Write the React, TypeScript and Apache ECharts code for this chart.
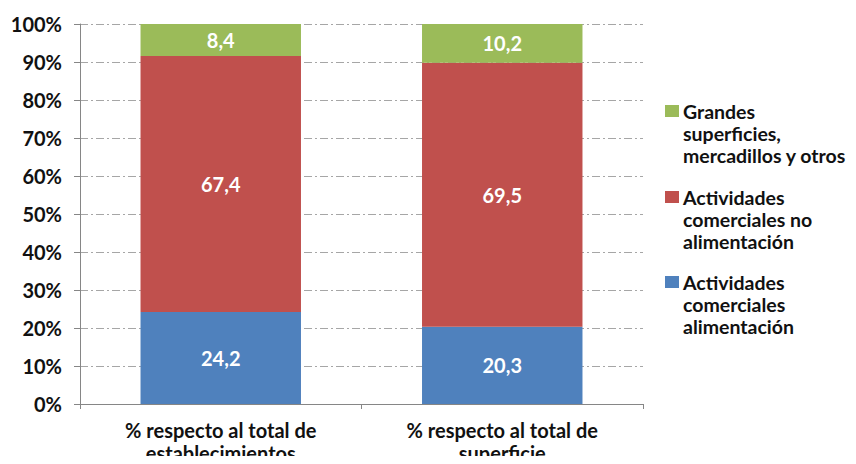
import React, { useEffect, useRef } from "react";
import * as echarts from "echarts";

const categories = ["% respecto al total de\nestablecimientos", "% respecto al total de\nsuperficie"];
const alimentacion = [24.2, 20.3];
const noAlimentacion = [67.4, 69.5];
const grandes = [8.4, 10.2];
const yTicks = [0, 10, 20, 30, 40, 50, 60, 70, 80, 90, 100];

const seriesNames = [
  "Actividades\ncomerciales\nalimentación",
  "Actividades\ncomerciales no\nalimentación",
  "Grandes\nsuperficies,\nmercadillos y otros",
];
const colors = ["#4F81BD", "#C0504D", "#9BBB59"];

const FONT = "Lato";
const FS = 20;

export default function App() {
  const ref = useRef<HTMLDivElement>(null);
  useEffect(() => {
    if (!ref.current) return;
    const chart = echarts.init(ref.current, undefined, { renderer: "svg" });
    const labelCfg = {
      show: true,
      position: "inside",
      color: "#fff",
      fontFamily: FONT,
      fontWeight: "bold",
      fontSize: FS,
      formatter: (p: any) => String(p.value).replace(".", ","),
    };
    const LH = 22;
    const legendItem = (name: string, color: string, centerY: number) => ({
      type: "group",
      children: [
        {
          type: "rect",
          shape: { x: 665, y: centerY - 6, width: 14, height: 12 },
          style: { fill: color },
        },
        {
          type: "text",
          x: 683,
          y: centerY - LH / 2,
          style: {
            text: name,
            fill: "#111",
            font: `bold 19.5px ${FONT}`,
            lineHeight: LH,
            verticalAlign: "top",
            align: "left",
          },
        },
      ],
    });
    chart.setOption({
      animation: false,
      backgroundColor: "#fff",
      grid: { left: 80, right: 213, top: 24, bottom: 54 },
      graphic: [
        legendItem(seriesNames[2], colors[2], 111),
        legendItem(seriesNames[1], colors[1], 197),
        legendItem(seriesNames[0], colors[0], 282),
      ],
      xAxis: {
        type: "category",
        data: categories,
        axisLine: { lineStyle: { color: "#868686" } },
        axisTick: { show: true, length: 5, lineStyle: { color: "#868686" } },
        axisLabel: {
          fontFamily: FONT,
          fontWeight: "bold",
          fontSize: FS,
          color: "#111",
          lineHeight: 23,
          margin: 14,
        },
      },
      yAxis: {
        type: "value",
        min: 0,
        max: 100,
        interval: 10,
        axisLine: { show: true, lineStyle: { color: "#868686" } },
        axisTick: { show: true, length: 6, lineStyle: { color: "#868686" } },
        axisLabel: {
          fontFamily: FONT,
          fontWeight: "bold",
          fontSize: FS,
          color: "#111",
          margin: 18,
          formatter: (v: number) => (yTicks.includes(v) ? v + "%" : ""),
        },
        splitLine: {
          show: true,
          lineStyle: { color: "#A6A6A6", type: [8, 3, 2, 3], width: 1 },
        },
      },
      series: [
        {
          name: seriesNames[0],
          type: "bar",
          stack: "total",
          barWidth: "57%",
          data: alimentacion,
          itemStyle: { color: colors[0] },
          label: labelCfg,
        },
        {
          name: seriesNames[1],
          type: "bar",
          stack: "total",
          data: noAlimentacion,
          itemStyle: { color: colors[1] },
          label: labelCfg,
        },
        {
          name: seriesNames[2],
          type: "bar",
          stack: "total",
          data: grandes,
          itemStyle: { color: colors[2] },
          label: labelCfg,
        },
      ],
    });
    return () => chart.dispose();
  }, []);
  return <div ref={ref} style={{ width: 856, height: 464, margin: -8 }} />;
}
